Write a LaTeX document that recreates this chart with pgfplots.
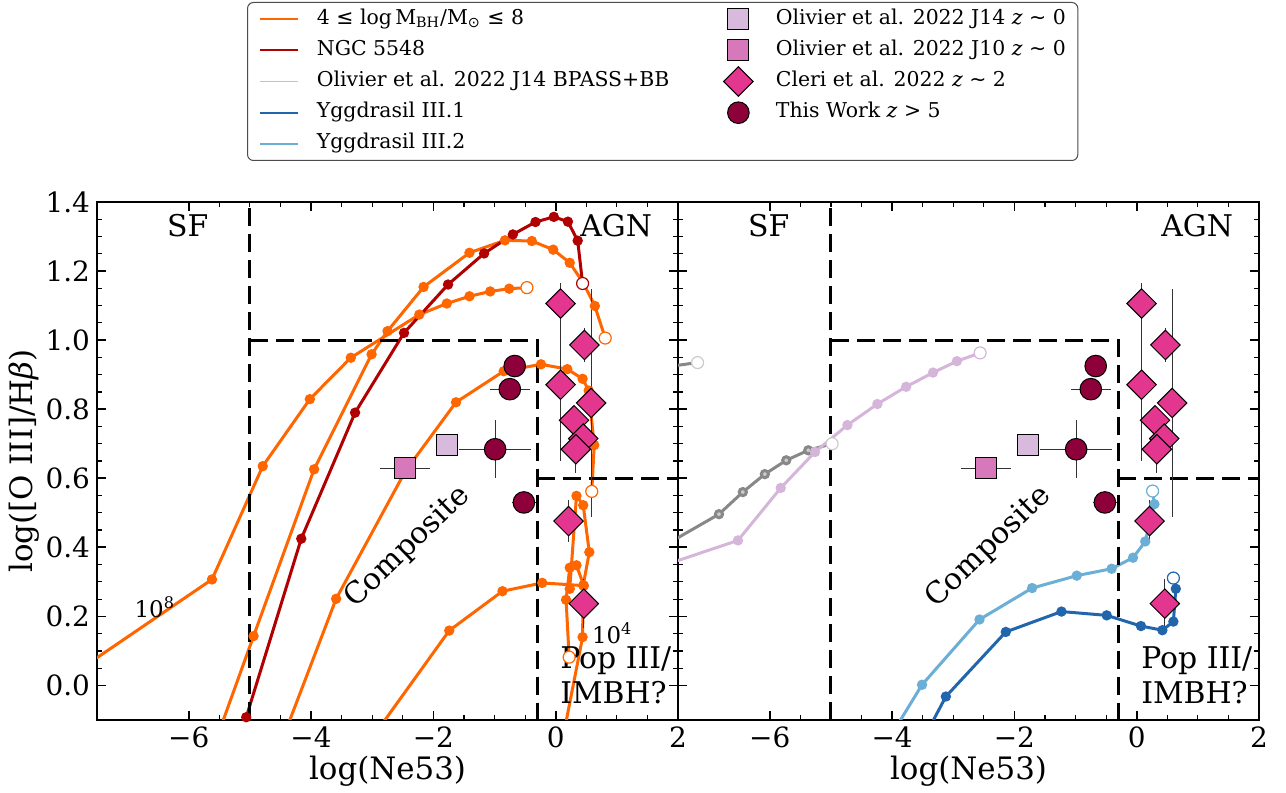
\documentclass[border=0pt]{standalone}
\usepackage{fontspec}
\setmainfont{DejaVu Serif}
\newfontfamily\dvs{DejaVu Sans}
\usepackage{pgfplots}
\pgfplotsset{compat=1.18}

\definecolor{cOr}{HTML}{FF6600}
\definecolor{cRed}{HTML}{B00000}
\definecolor{cPur}{HTML}{D5B5DA}
\definecolor{cYa}{HTML}{2166AC}
\definecolor{cYb}{HTML}{6BAED6}
\definecolor{cGl}{HTML}{888888}
\definecolor{cGd}{HTML}{CCCCCC}
\definecolor{cJa}{HTML}{D8BBDC}
\definecolor{cJb}{HTML}{D678BA}
\definecolor{cCl}{HTML}{E3368F}
\definecolor{cTW}{HTML}{8E003A}

\newcommand\legfont{\fontsize{10.25}{12}\selectfont}
\newcommand\regfont{\fontsize{15}{18}\selectfont}

\pgfplotsset{
 panel/.style={
  scale only axis, width=290.5bp, height=259bp, anchor=south west,
  xmin=-7.5, xmax=2, ymin=-0.1, ymax=1.4,
  xtick={-6,-4,-2,0,2}, xticklabels={−6,−4,−2,0,2},
  ytick={0,0.2,0.4,0.6,0.8,1.0,1.2,1.4},
  minor x tick num=3, minor y tick num=3,
  tick align=inside, xtick pos=both, ytick pos=both,
  major tick length=4.7bp, minor tick length=2.5bp,
  every major tick/.append style={line width=0.85bp, black},
  every minor tick/.append style={line width=0.6bp, black},
  axis line style={line width=1.3bp},
  tick label style={font=\fontsize{14}{16}\selectfont},
  xlabel={log(Ne53)},
  xlabel style={at={(axis description cs:0.5,-0.1158)}, anchor=base, font=\fontsize{15.5}{18}\selectfont},
 },
 curve/.style={line width=1.5bp, color=#1, mark=*, mark size=1.8bp, mark options={fill=#1, draw=none}},
 opn/.style={only marks, mark=*, mark size=3bp, mark options={fill=white, draw=#1, line width=0.6bp}},
 ebar/.style={error bars/error bar style={line width=0.6bp, draw=black!80}, error bars/error mark=none},
}

\newcommand\regions{%
 \addplot[black, line width=1.5bp, dash pattern=on 9bp off 4bp] coordinates {(-5,-0.1) (-5,1.4)};
 \addplot[black, line width=1.5bp, dash pattern=on 9bp off 4bp] coordinates {(-5,1.0) (-0.3,1.0) (-0.3,-0.1)};
 \addplot[black, line width=1.5bp, dash pattern=on 9bp off 4bp] coordinates {(-0.3,0.6) (2,0.6)};
 \node[anchor=base west, font=\regfont] at (axis cs:-6.47,1.299) {SF};
 \node[anchor=base east, font=\regfont] at (axis cs:1.69,1.299) {AGN};
 \node[anchor=base west, font=\regfont] at (axis cs:-0.04,0.049) {Pop III/};
 \node[anchor=base west, font=\regfont] at (axis cs:-0.04,-0.052) {IMBH?};
 \node[rotate=44, font=\regfont] at (axis cs:-2.42,0.40) {Composite};
}

\newcommand\obsdata{%
 % Olivier J14
 \addplot[only marks, mark=square*, mark size=5.2bp, mark options={fill=cJa, draw=black, line width=0.5bp}] coordinates {(-1.78,0.696)};
 % Olivier J10
 \addplot[only marks, mark=square*, mark size=5.2bp, mark options={fill=cJb, draw=black, line width=0.5bp}, ebar,
   error bars/.cd, x dir=both, x explicit] coordinates {(-2.46,0.629) +- (0.41,0)};
 % Cleri
 \addplot[only marks, mark=square*, mark size=5.2bp, mark options={fill=cCl, draw=black, line width=0.5bp, rotate=45}, ebar,
   error bars/.cd, y dir=both, y explicit] coordinates {
   (0.08,1.106) += (0,0.06) -= (0,0.25)
   (0.47,0.986) +- (0,0.05)
   (0.08,0.871) += (0,0.10) -= (0,0.22)
   (0.58,0.818) +- (0,0.33)
   (0.30,0.768) +- (0,0.04)
   (0.45,0.715) +- (0,0.03)
   (0.33,0.684) +- (0,0.07)
   (0.21,0.476) +- (0,0.06)
   (0.46,0.237) +- (0,0.07)};
 % This work
 \addplot[only marks, mark=*, mark size=5.4bp, mark options={fill=cTW, draw=black, line width=0.5bp}, ebar,
   error bars/.cd, x dir=both, x explicit, y dir=both, y explicit] coordinates {
   (-0.67,0.925) +- (0,0)
   (-0.75,0.858) +- (0.33,0)
   (-0.99,0.684) +- (0.59,0.084)
   (-0.52,0.530) +- (0.20,0)};
}

\begin{document}
\begin{tikzpicture}
\useasboundingbox (0,0) rectangle (643bp,396.5bp);

% ---------------- left panel ----------------
\begin{axis}[panel, at={(48.5bp,36.5bp)},
  yticklabels={0.0,0.2,0.4,0.6,0.8,1.0,1.2,1.4},
  ylabel={log([O III]/H\textit{β})},
  ylabel style={at={(axis description cs:-0.1256,0.5)}, anchor=center, font=\fontsize{15.5}{18}\selectfont},
  legend columns=2,
  legend style={at={(axis description cs:0.2582,1.3861)}, anchor=north west, draw=black!70, rounded corners=3bp,
    line width=0.5bp, font=\legfont, inner xsep=6bp, inner ysep=0.5bp, row sep=0pt,
    nodes={inner xsep=0pt, inner ysep=2.3bp, text height=8bp, text depth=3bp, anchor=west},
    cells={anchor=west},
    /tikz/every even column/.append style={column sep=24.8bp}},
]
\addlegendimage{legend image code/.code={\draw[cOr,line width=0.9bp] (0bp,0bp)--(19bp,0bp); \path (28bp,0bp);}}
\addlegendentry{4 {\dvs≤} log\,M\textsubscript{BH}/M\textsubscript{\dvs⊙} {\dvs≤} 8}
\addlegendimage{legend image code/.code={\path (0bp,0bp) (28bp,0bp); \draw[mark=square*, mark size=5.2bp, mark options={fill=cJa,draw=black,line width=0.5bp}] plot coordinates {(9.5bp,0bp)};}}
\addlegendentry{Olivier et al. 2022 J14 \textit{z} {\dvs∼} 0}
\addlegendimage{legend image code/.code={\draw[cRed,line width=0.9bp] (0bp,0bp)--(19bp,0bp); \path (28bp,0bp);}}
\addlegendentry{NGC 5548}
\addlegendimage{legend image code/.code={\path (0bp,0bp) (28bp,0bp); \draw[mark=square*, mark size=5.2bp, mark options={fill=cJb,draw=black,line width=0.5bp}] plot coordinates {(9.5bp,0bp)};}}
\addlegendentry{Olivier et al. 2022 J10 \textit{z} {\dvs∼} 0}
\addlegendimage{legend image code/.code={\draw[cPur,line width=0.9bp] (0bp,0bp)--(19bp,0bp); \path (28bp,0bp);}}
\addlegendentry{Olivier et al. 2022 J14 BPASS+BB}
\addlegendimage{legend image code/.code={\path (0bp,0bp) (28bp,0bp); \draw[mark=square*, mark size=5.2bp, mark options={fill=cCl,draw=black,line width=0.5bp,rotate=45}] plot coordinates {(9.5bp,0bp)};}}
\addlegendentry{Cleri et al. 2022 \textit{z} {\dvs∼} 2}
\addlegendimage{legend image code/.code={\draw[cYa,line width=0.9bp] (0bp,0bp)--(19bp,0bp); \path (28bp,0bp);}}
\addlegendentry{Yggdrasil III.1}
\addlegendimage{legend image code/.code={\path (0bp,0bp) (28bp,0bp); \draw[mark=*, mark size=5.4bp, mark options={fill=cTW,draw=black,line width=0.5bp}] plot coordinates {(9.5bp,0bp)};}}
\addlegendentry{This Work \textit{z} > 5}
\addlegendimage{legend image code/.code={\draw[cYb,line width=0.9bp] (0bp,0bp)--(19bp,0bp); \path (28bp,0bp);}}
\addlegendentry{Yggdrasil III.2}

% orange mass tracks
\addplot[curve=cOr] coordinates {(-8.0,0.02) (-5.62,0.307) (-4.79,0.635) (-4.02,0.829) (-3.35,0.949) (-2.23,1.074) (-1.78,1.106) (-1.41,1.127) (-1.07,1.141) (-0.76,1.149) (-0.47,1.152)};
\addplot[curve=cOr] coordinates {(-5.74,-0.25) (-4.94,0.143) (-3.95,0.626) (-3.01,0.959) (-2.75,1.026) (-2.16,1.154) (-1.41,1.253) (-0.83,1.289) (-0.39,1.287) (-0.04,1.262) (0.23,1.224) (0.45,1.166) (0.64,1.099) (0.81,1.006)};
\addplot[curve=cOr] coordinates {(-4.67,-0.25) (-3.59,0.251) (-2.46,0.62) (-1.63,0.820) (-0.85,0.910) (-0.24,0.930) (0.19,0.916) (0.44,0.888) (0.54,0.854) (0.63,0.696) (0.59,0.562)};
\addplot[curve=cOr] coordinates {(-3.40,-0.25) (-1.74,0.159) (-0.87,0.273) (-0.22,0.297) (0.46,0.289) (0.34,0.348) (0.23,0.341) (0.17,0.248) (0.22,0.082)};
\addplot[curve=cOr] coordinates {(0.01,-0.25) (0.44,0.140) (0.45,0.290) (0.55,0.386) (0.45,0.522) (0.34,0.549) (0.23,0.28)};
% NGC 5548
\addplot[curve=cRed] coordinates {(-5.06,-0.092) (-4.16,0.425) (-3.28,0.790) (-2.48,1.021) (-1.76,1.161) (-1.17,1.251) (-0.70,1.306) (-0.33,1.342) (-0.03,1.357) (0.20,1.343) (0.36,1.288) (0.44,1.164)};
% open end points
\addplot[opn=cOr] coordinates {(-0.47,1.152) (0.81,1.006) (0.59,0.562) (0.22,0.082)};
\addplot[opn=cRed] coordinates {(0.44,1.164)};

\node[anchor=base west, font=\fontsize{11.5}{13}\selectfont] at (axis cs:-7.0,0.197) {10\textsuperscript{8}};
\node[anchor=base west, font=\fontsize{11.5}{13}\selectfont] at (axis cs:0.48,0.122) {10\textsuperscript{4}};

\regions
\obsdata
\end{axis}

% ---------------- right panel ----------------
\begin{axis}[panel, at={(339bp,36.5bp)}, yticklabels={}]
% grey model
\addplot[curve=cGl, mark options={fill=cGd, draw=none}] coordinates {(-8,0.377) (-6.83,0.496) (-6.44,0.560) (-6.08,0.612) (-5.73,0.652) (-5.37,0.681) (-4.98,0.700)};
\addplot[line width=1.5bp, color=cGl] coordinates {(-8,0.915) (-7.18,0.935)};
\addplot[opn=cGd] coordinates {(-4.98,0.700) (-7.18,0.935)};
% Olivier J14 BPASS+BB
\addplot[curve=cPur] coordinates {(-8,0.332) (-6.52,0.420) (-5.82,0.572) (-5.26,0.676) (-4.73,0.754) (-4.24,0.815) (-3.77,0.865) (-3.33,0.906) (-2.94,0.939) (-2.56,0.963)};
\addplot[opn=cPur] coordinates {(-2.56,0.963)};
% Yggdrasil III.2
\addplot[curve=cYb] coordinates {(-4.38,-0.25) (-3.51,0.002) (-2.57,0.191) (-1.71,0.282) (-0.98,0.318) (-0.41,0.338) (-0.06,0.370) (0.14,0.417) (0.29,0.525) (0.26,0.563)};
\addplot[opn=cYb] coordinates {(0.26,0.563)};
% Yggdrasil III.1
\addplot[curve=cYa] coordinates {(-3.77,-0.25) (-3.12,-0.032) (-2.14,0.155) (-1.23,0.214) (-0.49,0.203) (0.07,0.172) (0.42,0.160) (0.60,0.185) (0.64,0.280) (0.60,0.311)};
\addplot[opn=cYa] coordinates {(0.60,0.311)};

\regions
\obsdata
\end{axis}
\end{tikzpicture}
\end{document}
